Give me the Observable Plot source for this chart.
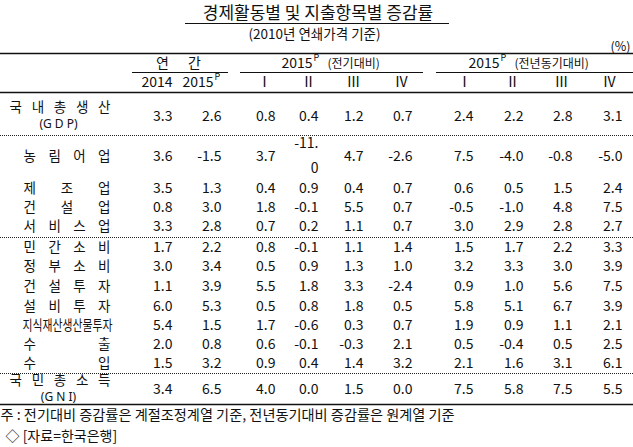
<!DOCTYPE html>
<html><head><meta charset="utf-8">
<script src="https://cdn.jsdelivr.net/npm/d3@7"></script>
<script src="https://cdn.jsdelivr.net/npm/@observablehq/plot@0.6"></script>
<style>
body{margin:0;background:#fff}
#chart svg{display:block}
</style>
</head><body><div id="chart"></div>
<script>
// ---------- data ----------
const title = "경제활동별 및 지출항목별 증감률";
const subtitle = "(2010년 연쇄가격 기준)";
const unitLabel = "(%)";
const groupLabels = ["연간", "2015", "2015"];
const groupSup = ["", "P", "P"];
const groupNotes = ["", "(전기대비)", "(전년동기대비)"];
const columnLabels = ["2014", "2015", "Ⅰ", "Ⅱ", "Ⅲ", "Ⅳ", "Ⅰ", "Ⅱ", "Ⅲ", "Ⅳ"];
const columnSup = ["", "P", "", "", "", "", "", "", "", ""];
const rowLabels = ["국내총생산", "농림어업", "제조업", "건설업", "서비스업", "민간소비", "정부소비", "건설투자", "설비투자", "지식재산생산물투자", "수출", "수입", "국민총소득"];
const rowSubLabels = ["(G D P)", "", "", "", "", "", "", "", "", "", "", "", "(G N I)"];
const rowLevel = [0, 1, 1, 1, 1, 1, 1, 1, 1, 1, 1, 1, 0];
const annual2014 = [3.3, 3.6, 3.5, 0.8, 3.3, 1.7, 3.0, 1.1, 6.0, 5.4, 2.0, 1.5, 3.4];
const annual2015 = [2.6, -1.5, 1.3, 3.0, 2.8, 2.2, 3.4, 3.9, 5.3, 1.5, 0.8, 3.2, 6.5];
const qoqQ1 = [0.8, 3.7, 0.4, 1.8, 0.7, 0.8, 0.5, 5.5, 0.5, 1.7, 0.6, 0.9, 4.0];
const qoqQ2 = [0.4, -11.0, 0.9, -0.1, 0.2, -0.1, 0.9, 1.8, 0.8, -0.6, -0.1, 0.4, 0.0];
const qoqQ3 = [1.2, 4.7, 0.4, 5.5, 1.1, 1.1, 1.3, 3.3, 1.8, 0.3, -0.3, 1.4, 1.5];
const qoqQ4 = [0.7, -2.6, 0.7, 0.7, 0.7, 1.4, 1.0, -2.4, 0.5, 0.7, 2.1, 3.2, 0.0];
const yoyQ1 = [2.4, 7.5, 0.6, -0.5, 3.0, 1.5, 3.2, 0.9, 5.8, 1.9, 0.5, 2.1, 7.5];
const yoyQ2 = [2.2, -4.0, 0.5, -1.0, 2.9, 1.7, 3.3, 1.0, 5.1, 0.9, -0.4, 1.6, 5.8];
const yoyQ3 = [2.8, -0.8, 1.5, 4.8, 2.8, 2.2, 3.0, 5.6, 6.7, 1.1, 0.5, 3.1, 7.5];
const yoyQ4 = [3.1, -5.0, 2.4, 7.5, 2.7, 3.3, 3.9, 7.5, 3.9, 2.1, 2.5, 6.1, 5.5];
const note = "주 : 전기대비 증감률은 계절조정계열 기준, 전년동기대비 증감률은 원계열 기준";
const source = "◇ [자료=한국은행]";

// ---------- layout ----------
const FONT = "'Noto Sans CJK KR', 'Noto Sans', sans-serif";
const LATIN = "'Noto Sans', 'Noto Sans CJK KR', sans-serif";
const W = 633, H = 447;
const series = [annual2014, annual2015, qoqQ1, qoqQ2, qoqQ3, qoqQ4, yoyQ1, yoyQ2, yoyQ3, yoyQ4];
const colRight = [172, 221, 275, 318, 363, 412, 473, 523, 572, 622];
const colHeadCenter = [null, null, 264, 308, 353, 401, 464, 512, 561, 609];
const rowY = [116, 156, 188, 207, 226, 247, 266, 286, 306, 325, 344, 363, 389];
const dottedY = [135, 237, 373];
const labelStart = [8, 22], labelEnd = 111, labelFs = 13.5;
const groupSpec = [
  {seg: [132, 228]},
  {seg: [240, 423], end: 312, noteX: 327},
  {seg: [436, 633], end: 499, noteX: 514}
];
const yTitle = 13, yTitleLine = 23, ySub = 34, yUnit = 46, yTop = 53, yGroup = 63, ySeg = 72, yHead = 82, yHeadLine = 92, yBottom = 404, yNote = 415, ySource = 436;

function spread(text, start, end, cw) {
  const chars = text.replace(/ /g, "").split("");
  const n = chars.length;
  return chars.map((ch, i) => ({ch, x: n === 1 ? start + cw / 2 : start + cw / 2 + i * (end - start - cw) / (n - 1)}));
}

// label characters (justified across the label cell)
const labelChars = [], squeezed = [];
rowLabels.forEach((lab, r) => {
  const s = labelStart[rowLevel[r]];
  const yy = rowSubLabels[r] ? rowY[r] - 8.5 : rowY[r];
  if (lab.length > 5) { squeezed.push({t: lab, x: s, y: yy}); return; }
  spread(lab, s, labelEnd, 14.5).forEach(c => labelChars.push({...c, y: yy}));
});
const subLabels = rowSubLabels.map((t, r) => ({t, x: 58, y: rowY[r] + 8})).filter(d => d.t);

// value cells (a value too wide for its cell wraps onto two lines, as in the source)
const cells = [], wrapped = [];
series.forEach((arr, c) => arr.forEach((v, r) => {
  const s = v.toFixed(1);
  if (s.length > 4) wrapped.push({x: colRight[c], y: rowY[r], t: s.slice(0, 4) + "\n" + s.slice(4)});
  else cells.push({x: colRight[c], y: rowY[r], t: s});
}));

// header
const groupChars = spread(groupLabels[0], 155, 201, 14).map(d => ({...d, y: yGroup}));
const groupYears = groupSpec.slice(1).map((g, i) => ({x: g.end, y: yGroup, t: groupLabels[i + 1], sup: groupSup[i + 1], n: groupNotes[i + 1], nx: g.noteX}));
const headYears = columnLabels.map((t, c) => ({t, c})).filter(d => !colHeadCenter[d.c]).map(d => ({x: colRight[d.c] - (columnSup[d.c] ? 8 : 0), y: yHead, t: d.t, sup: columnSup[d.c]}));
const headRoman = columnLabels.map((t, c) => ({t, x: colHeadCenter[c], y: yHead})).filter(d => d.x);

const solidLines = [
  {y: yTop, x1: 0, x2: W, w: 1.3},
  {y: yHeadLine, x1: 0, x2: W, w: 1.3},
  {y: yBottom, x1: 0, x2: W, w: 1.3},
  ...groupSpec.map(g => ({y: ySeg, x1: g.seg[0], x2: g.seg[1], w: 1}))
];
const dottedLines = dottedY.map(y => ({y, x1: 0, x2: W}));

const txt = {fontFamily: FONT, fill: "#111"};

const chart = Plot.plot({
  width: W, height: H,
  margin: 0,
  x: {type: "identity", axis: null},
  y: {type: "identity", axis: null},
  style: {fontFamily: FONT, background: "#fff"},
  marks: [
    // title block
    Plot.text([title], {x: W / 2 + 1, y: yTitle, text: d => d, fontSize: 17, ...txt}),
    Plot.ruleY([yTitleLine], {x1: 185, x2: 449, stroke: "#111", strokeWidth: 1}),
    Plot.text([subtitle], {x: 314, y: ySub, text: d => d, fontSize: 13.5, ...txt}),
    Plot.text([unitLabel], {x: 630, y: yUnit, text: d => d, fontSize: 12.5, textAnchor: "end", ...txt}),
    // rules
    Plot.ruleY(solidLines, {y: "y", x1: "x1", x2: "x2", strokeWidth: "w", stroke: "#111"}),
    Plot.ruleY(dottedLines, {y: "y", x1: "x1", x2: "x2", stroke: "#222", strokeWidth: 1, strokeDasharray: "1 1"}),
    // header group row
    Plot.text(groupChars, {x: "x", y: "y", text: "ch", fontSize: 14, ...txt}),
    Plot.text(groupYears, {x: "x", y: "y", text: "t", fontSize: 14, textAnchor: "end", ...txt}),
    Plot.text(groupYears, {x: d => d.x + 1, y: d => d.y - 5, text: "sup", fontSize: 9, textAnchor: "start", ...txt}),
    Plot.text(groupYears, {x: "nx", y: d => d.y + 1, text: "n", fontSize: 12, textAnchor: "start", ...txt}),
    // header column row
    Plot.text(headYears, {x: "x", y: "y", text: "t", fontSize: 14, textAnchor: "end", ...txt}),
    Plot.text(headYears, {x: d => d.x + 1, y: d => d.y - 5, text: "sup", fontSize: 9, textAnchor: "start", ...txt}),
    Plot.text(headRoman, {x: "x", y: "y", text: "t", fontSize: 14, ...txt}),
    // row labels
    Plot.text(labelChars, {x: "x", y: "y", text: "ch", fontSize: labelFs, ...txt}),
    Plot.text(squeezed, {x: "x", y: "y", text: "t", fontSize: labelFs, textAnchor: "start", ...txt}),
    Plot.text(subLabels, {x: "x", y: "y", text: "t", fontSize: 12, fontFamily: LATIN, fill: "#111"}),
    // values
    Plot.text(cells, {x: "x", y: "y", text: "t", fontSize: 14, textAnchor: "end", ...txt}),
    Plot.text(wrapped, {x: "x", y: "y", text: "t", fontSize: 14, textAnchor: "end", lineHeight: 1.8, dy: -4, ...txt}),
    // footnotes
    Plot.text([note], {x: 0, y: yNote, text: d => d, fontSize: 14.2, textAnchor: "start", ...txt}),
    Plot.text([source], {x: 5, y: ySource, text: d => d, fontSize: 14, textAnchor: "start", ...txt})
  ]
});
document.getElementById("chart").append(chart);

// squeeze the long label into its cell like the original
d3.select(chart).selectAll("text").filter(function () { return this.textContent === "지식재산생산물투자"; })
  .attr("textLength", labelEnd - labelStart[1] + 1).attr("lengthAdjust", "spacingAndGlyphs");
</script>
</body></html>
